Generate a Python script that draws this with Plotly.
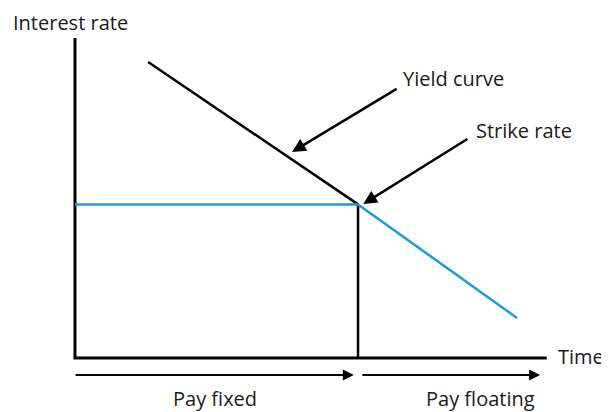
import plotly.graph_objects as go

# ---- data (time units on x, rate units on y) ----
axis_t = [0.0, 0.0, 10.0]
axis_r = [10.0, 0.0, 0.0]

yield_t = [1.55, 6.0]
yield_r = [9.25, 4.8]

fixed_t = [0.0, 6.0]
fixed_r = [4.8, 4.8]

floating_t = [6.0, 9.37]
floating_r = [4.8, 1.25]

strike_drop_t = [6.0, 6.0]
strike_drop_r = [4.8, 0.0]

labels = ["Interest rate", "Time", "Yield curve", "Strike rate", "Pay fixed", "Pay floating"]

BLUE = "#1A9BD7"
FONT = dict(family="Open Sans, Noto Sans, sans-serif", size=20, color="#1a1a1a")

fig = go.Figure()
fig.add_trace(go.Scatter(x=axis_t, y=axis_r, mode="lines",
                         line=dict(color="black", width=3), hoverinfo="skip"))
fig.add_trace(go.Scatter(x=yield_t, y=yield_r, mode="lines",
                         line=dict(color="black", width=2.5), hoverinfo="skip"))
fig.add_trace(go.Scatter(x=strike_drop_t, y=strike_drop_r, mode="lines",
                         line=dict(color="black", width=2.5), hoverinfo="skip"))
fig.add_trace(go.Scatter(x=fixed_t, y=fixed_r, mode="lines",
                         line=dict(color=BLUE, width=2.5), hoverinfo="skip"))
fig.add_trace(go.Scatter(x=floating_t, y=floating_r, mode="lines",
                         line=dict(color=BLUE, width=2.5), hoverinfo="skip"))

ann = []
# text labels
ann.append(dict(x=-1.36, y=10.47, text=labels[0], xanchor="left", yanchor="middle"))
ann.append(dict(x=10.2, y=0.06, text=labels[1], xanchor="left", yanchor="middle"))
ann.append(dict(x=6.91, y=8.72, text=labels[2], xanchor="left", yanchor="middle"))
ann.append(dict(x=8.46, y=7.125, text=labels[3], xanchor="left", yanchor="middle"))
ann.append(dict(x=2.97, y=-1.25, text=labels[4], xanchor="center", yanchor="middle"))
ann.append(dict(x=8.59, y=-1.25, text=labels[5], xanchor="center", yanchor="middle"))
for a in ann:
    a.update(xref="x", yref="y", showarrow=False, font=FONT)

arrow_common = dict(xref="x", yref="y", axref="x", ayref="y", text="",
                    showarrow=True, arrowhead=2, arrowsize=1.1, arrowwidth=2.5,
                    arrowcolor="black", standoff=0, startstandoff=0)
# pointer arrows
ann.append(dict(x=4.60, y=6.44, ax=6.85, ay=8.44, **arrow_common))
ann.append(dict(x=6.11, y=4.81, ax=8.35, ay=6.875, **arrow_common))
# bottom arrows
bottom = dict(arrow_common)
bottom.update(arrowwidth=2)
ann.append(dict(x=5.91, y=-0.53, ax=-0.02, ay=-0.53, **bottom))
ann.append(dict(x=9.86, y=-0.53, ax=6.06, ay=-0.53, **bottom))

# the page places the figure 8px in from the top-left corner; size and ranges compensate
fig.update_layout(
    width=601, height=404,
    margin=dict(l=0, r=0, t=0, b=0),
    paper_bgcolor="white", plot_bgcolor="white",
    showlegend=False,
    annotations=ann,
    xaxis=dict(range=[-1.42, 11.32], visible=False, fixedrange=True),
    yaxis=dict(range=[-1.6875, 10.9375], visible=False, fixedrange=True),
)

fig.write_html("out.html")
